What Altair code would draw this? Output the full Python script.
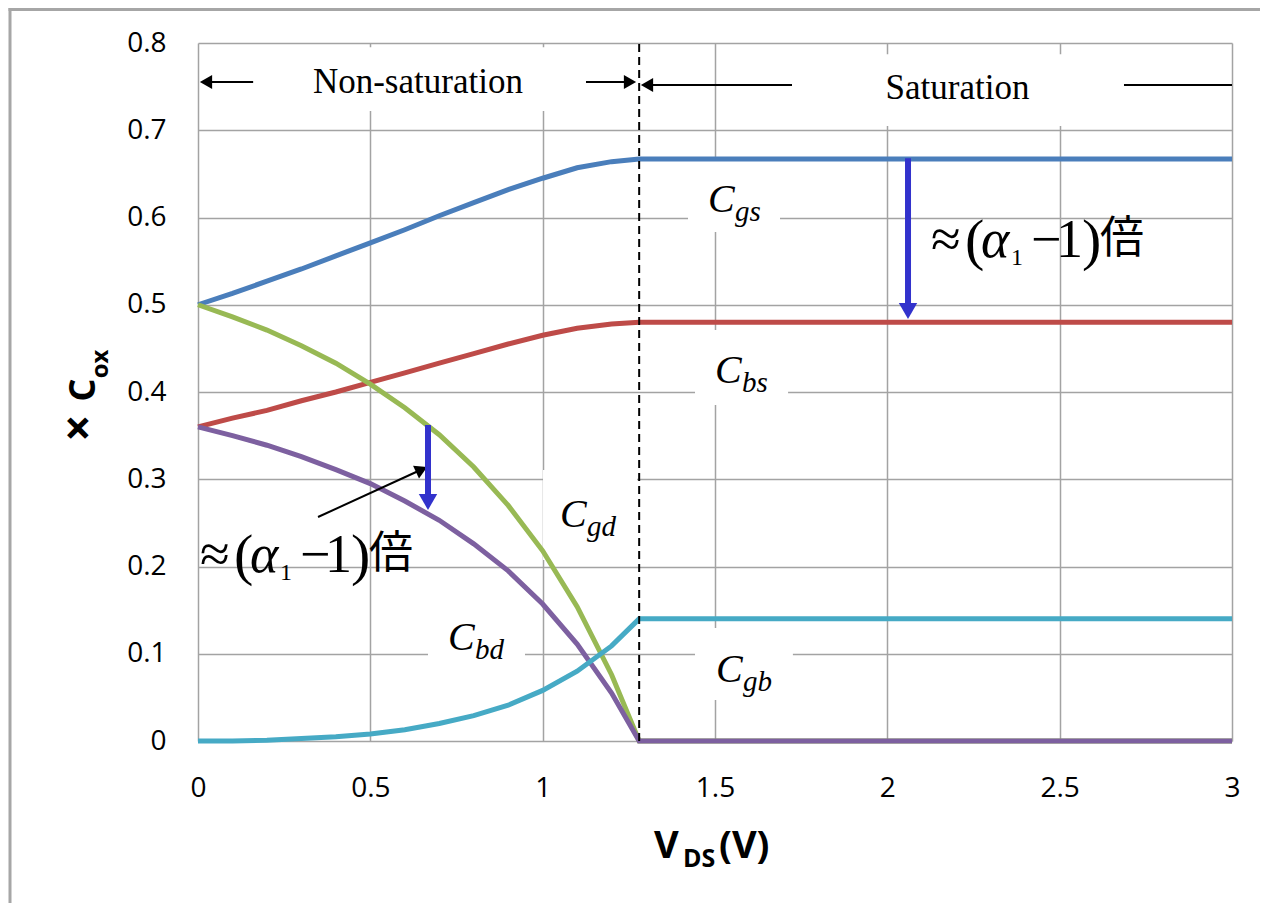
import altair as alt
import pandas as pd

# ---------------- data ----------------
V = [0, 0.1, 0.2, 0.3, 0.4, 0.5, 0.6, 0.7, 0.8, 0.9, 1.0, 1.1, 1.2, 1.28, 3.0]
Cgs = [0.500, 0.513, 0.527, 0.541, 0.556, 0.571, 0.586, 0.602, 0.617, 0.632, 0.645, 0.657, 0.664, 0.667, 0.667]
Cbs = [0.360, 0.370, 0.379, 0.390, 0.400, 0.411, 0.422, 0.433, 0.444, 0.455, 0.465, 0.473, 0.478, 0.480, 0.480]
Cgd = [0.500, 0.486, 0.471, 0.453, 0.433, 0.409, 0.382, 0.351, 0.314, 0.270, 0.218, 0.154, 0.076, 0.000, 0.000]
Cbd = [0.360, 0.350, 0.339, 0.326, 0.311, 0.295, 0.275, 0.253, 0.226, 0.195, 0.157, 0.111, 0.055, 0.000, 0.000]
Cgb = [0.000, 0.000, 0.001, 0.003, 0.005, 0.008, 0.013, 0.020, 0.029, 0.041, 0.058, 0.080, 0.109, 0.140, 0.140]

series_names = ["Cgs", "Cbs", "Cgd", "Cbd", "Cgb"]
series_colors = ["#4a7ebb", "#be4b48", "#98b954", "#7d60a0", "#46aac5"]

x_ticks = [0, 0.5, 1, 1.5, 2, 2.5, 3]
y_ticks = [0, 0.1, 0.2, 0.3, 0.4, 0.5, 0.6, 0.7, 0.8]

VDSAT = 1.28

# curve labels: subscript, anchor V, anchor value
label_subs = ["gs", "bs", "gd", "bd", "gb"]
label_V = [1.4797, 1.5, 1.0503, 0.7253, 1.5029]
label_C = [0.6063, 0.4103, 0.2453, 0.1043, 0.0676]

# white label boxes
box_x1 = [0.165, 1.732, 1.4217, 1.442, 1.001, 0.6673, 1.442]
box_x2 = [1.123, 2.681, 1.6886, 1.712, 1.2737, 0.9487, 1.726]
box_y1 = [0.722, 0.705, 0.5834, 0.385, 0.2074, 0.070, 0.047]
box_y2 = [0.795, 0.787, 0.6648, 0.471, 0.3106, 0.148, 0.1295]

# region labels
region_text = ["Non-saturation", "Saturation"]
region_V = [0.638, 2.2036]
region_C = [0.7427, 0.7358]

# formula anchors (≈(α1 −1)倍)
formula_V = [2.1267, 0.0058]
formula_C = [0.5547, 0.1937]

# ---------------- tables ----------------
rows = []
for name, vals in zip(series_names, [Cgs, Cbs, Cgd, Cbd, Cgb]):
    for v, c in zip(V, vals):
        rows.append({"V": v, "C": c, "series": name})
df = pd.DataFrame(rows)

xs = alt.Scale(domain=[0, 3], nice=False, zero=False)
ys = alt.Scale(domain=[0, 0.8], nice=False)

GRID = "#a3a3a3"


def qx(f):
    return alt.X(f, scale=xs, title=None)


def qy(f):
    return alt.Y(f, scale=ys, title=None)


box_df = pd.DataFrame({"x1": box_x1, "x2": box_x2, "y1": box_y1, "y2": box_y2})
boxes = alt.Chart(box_df).mark_rect(color="white").encode(
    x=alt.X("x1:Q", scale=xs, title=None, axis=alt.Axis(
        values=x_ticks, format="~g", grid=True, gridColor=GRID, gridWidth=1.5,
        domain=False, ticks=False, labelFont="Open Sans", labelFontSize=28,
        labelColor="black", labelPadding=33, labelFlush=False, labelOverlap=False)),
    x2="x2:Q",
    y=alt.Y("y1:Q", scale=ys, title=None, axis=alt.Axis(
        values=y_ticks, format="~g", grid=True, gridColor=GRID, gridWidth=1.5,
        domain=False, ticks=False, labelFont="Open Sans", labelFontSize=28,
        labelColor="black", labelPadding=32, labelFlush=False, labelOverlap=False)),
    y2="y2:Q")

lines = alt.Chart(df).mark_line(strokeWidth=5).encode(
    x=qx("V:Q"),
    y=qy("C:Q"),
    color=alt.Color("series:N", scale=alt.Scale(domain=series_names, range=series_colors),
                    legend=None),
    order=alt.Order("V:Q"),
)

dash_df = pd.DataFrame({"V": [VDSAT], "y1": [0.0], "y2": [0.8]})
dash = alt.Chart(dash_df).mark_rule(color="black", strokeWidth=2, strokeDash=[8, 5]).encode(
    x=qx("V:Q"), y=qy("y1:Q"), y2="y2:Q")

# black arrows at the top + diagonal pointer
arr_df = pd.DataFrame({
    "x1": [0.0232, 1.1257, 1.3027, 2.6866, 0.3482],
    "x2": [0.1600, 1.2534, 1.7234, 3.0000, 0.6487],
    "y1": [0.7553, 0.7553, 0.7519, 0.7519, 0.2567],
    "y2": [0.7553, 0.7553, 0.7519, 0.7519, 0.3112],
})
black_lines = alt.Chart(arr_df).mark_rule(color="black", strokeWidth=2).encode(
    x=qx("x1:Q"), x2="x2:Q", y=qy("y1:Q"), y2="y2:Q")


def head(vx, vy, shape, size, color, angle=0):
    d = pd.DataFrame({"x": vx, "y": vy})
    return alt.Chart(d).mark_point(shape=shape, filled=True, size=size, color=color,
                                   opacity=1, angle=angle, strokeWidth=0).encode(
        x=qx("x:Q"), y=qy("y:Q"))


heads = [
    head([0.0232, 1.3027], [0.7553, 0.7519], "triangle-left", 200, "black"),
    head([1.2534], [0.7553], "triangle-right", 200, "black"),
    head([0.6487], [0.3112], "triangle-up", 200, "black", angle=65),
]

BLUE = "#3232cc"
blue_df = pd.DataFrame({"x": [0.6673, 2.060], "y1": [0.3622, 0.668], "y2": [0.280, 0.500]})
blue_lines = alt.Chart(blue_df).mark_rule(color=BLUE, strokeWidth=6).encode(
    x=qx("x:Q"), y=qy("y1:Q"), y2="y2:Q")
blue_heads = head([0.6673, 2.060], [0.2739, 0.4928], "triangle-down", 340, BLUE)

# curve labels
lab_df = pd.DataFrame({"x": label_V, "y": label_C, "sub": label_subs, "C": ["C"] * 5})
lab_C = alt.Chart(lab_df).mark_text(font="Liberation Serif", fontStyle="italic", fontSize=40,
                                    align="left", baseline="alphabetic", color="black").encode(
    x=qx("x:Q"), y=qy("y:Q"), text="C:N")
lab_sub = alt.Chart(lab_df).mark_text(font="Liberation Serif", fontStyle="italic", fontSize=29,
                                      align="left", baseline="alphabetic", color="black",
                                      dx=27, dy=9).encode(
    x=qx("x:Q"), y=qy("y:Q"), text="sub:N")

reg_df = pd.DataFrame({"x": region_V, "y": region_C, "t": region_text})
regions = alt.Chart(reg_df).mark_text(font="Liberation Serif", fontSize=35, align="center",
                                      baseline="alphabetic", color="black").encode(
    x=qx("x:Q"), y=qy("y:Q"), text="t:N")

# formula pieces
pieces = [
    ("≈", 0, 0, 54, "normal", "Liberation Serif"),
    ("(", 34, 2, 58, "normal", "Liberation Serif"),
    ("α", 50, 0, 54, "italic", "Liberation Serif"),
    ("1", 80, 8, 24, "normal", "Liberation Serif"),
    ("−", 100, 0, 54, "normal", "Liberation Serif"),
    ("1", 125, 0, 54, "normal", "Liberation Serif"),
    (")", 151, 2, 58, "normal", "Liberation Serif"),
    ("倍", 169, -4, 44, "normal", "Noto Sans CJK JP"),
]
formula_layers = []
for t, dx, dy, fs, st, fnt in pieces:
    d = pd.DataFrame({"x": formula_V, "y": formula_C, "t": [t, t]})
    formula_layers.append(
        alt.Chart(d).mark_text(font=fnt, fontSize=fs, fontStyle=st, align="left",
                               baseline="alphabetic", color="black", dx=dx, dy=dy).encode(
            x=qx("x:Q"), y=qy("y:Q"), text="t:N"))


# axis titles with subscripts (pixel placement outside the plot)
def ptext(t, px, py, fs, angle=0, align="left", weight="bold"):
    d = pd.DataFrame({"t": [t]})
    return alt.Chart(d).mark_text(font="Open Sans", fontSize=fs, fontWeight=weight,
                                  align=align, baseline="alphabetic", angle=angle,
                                  color="black").encode(
        x=alt.value(px), y=alt.value(py), text="t:N")


titles = [
    ptext("×", -103, 428 - 43, 48, angle=270, align="center"),
    ptext("C", -103, 390 - 43, 36, angle=270, align="center"),
    ptext("ox", -90, 364 - 43, 24, angle=270, align="center"),
    ptext("V", 456, 815, 38),
    ptext("DS", 485, 824, 25),
    ptext("(V)", 521, 815, 38),
]

# outer frame (left and top edges)
frame_l = alt.Chart(pd.DataFrame({"a": [0]})).mark_rule(color="#a6a6a6", strokeWidth=3).encode(
    x=alt.value(-188), y=alt.value(-35), y2=alt.value(870))
frame_t = alt.Chart(pd.DataFrame({"a": [0]})).mark_rule(color="#a6a6a6", strokeWidth=3).encode(
    x=alt.value(-189.5), x2=alt.value(1070), y=alt.value(-33.5))

chart = alt.layer(
    boxes, lines, dash, black_lines, *heads, blue_lines, blue_heads,
    lab_C, lab_sub, regions, *formula_layers, *titles, frame_l, frame_t,
).properties(
    width=1034, height=698,
    padding={"left": 190, "top": 35, "right": 28, "bottom": 162},
    autosize="none",
).configure_view(strokeWidth=0)

chart.save("out.html", embed_options={"renderer": "svg", "actions": False})
